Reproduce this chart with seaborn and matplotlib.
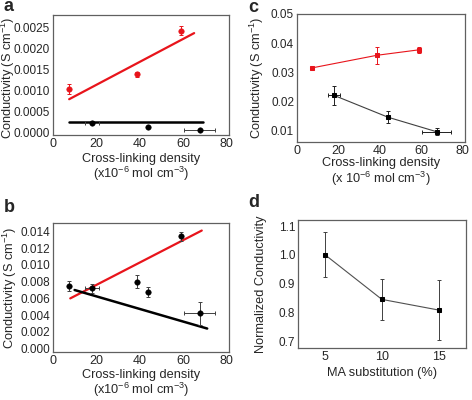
import numpy as np
import pandas as pd
import seaborn as sns
import matplotlib.pyplot as plt
from matplotlib.ticker import FormatStrFormatter, MultipleLocator

# ---- data ----
# panel a
a_red_x = [7.5, 38.5, 59.0]
a_red_y = [0.00104, 0.00139, 0.00243]
a_red_yerr = [0.00011, 0.00006, 0.0001]
a_blk_x = [18.0, 44.0, 67.5]
a_blk_y = [0.00024, 0.00014, 0.00006]
a_blk_xerr = [3.0, 0.0, 7.0]
a_blk_yerr = [0.00003, 0.00003, 0.00002]
a_redfit_x = [7.5, 65.0]
a_redfit_y = [0.00080, 0.00237]
a_blkfit_x = [7.5, 69.0]
a_blkfit_y = [0.00027, 0.00027]

# panel b
b_x = [7.5, 18.0, 38.5, 44.0, 59.0, 67.5]
b_y = [0.0075, 0.0072, 0.0080, 0.0068, 0.0134, 0.0042]
b_xerr = [0.0, 3.0, 0.0, 0.0, 0.0, 7.0]
b_yerr = [0.0006, 0.0005, 0.0008, 0.0006, 0.0005, 0.0014]
b_redfit_x = [8.0, 68.5]
b_redfit_y = [0.0060, 0.0141]
b_blkfit_x = [10.0, 71.0]
b_blkfit_y = [0.0070, 0.0024]

# panel c
c_red_x = [7.5, 38.5, 59.0]
c_red_y = [0.0315, 0.0358, 0.0377]
c_red_xerr = [0.0, 0.0, 1.0]
c_red_yerr = [0.0003, 0.0030, 0.0010]
c_blk_x = [18.0, 44.0, 67.5]
c_blk_y = [0.0220, 0.0145, 0.0095]
c_blk_xerr = [3.0, 0.0, 7.0]
c_blk_yerr = [0.0033, 0.0020, 0.0012]

# panel d
d_x = [5, 10, 15]
d_y = [1.0, 0.845, 0.808]
d_yerr = [0.078, 0.07, 0.103]

sns.set_style("white")
plt.rcParams['font.family'] = ['Liberation Sans', 'DejaVu Sans']
plt.rcParams['mathtext.fontset'] = 'custom'
plt.rcParams['mathtext.rm'] = 'Liberation Sans'
plt.rcParams['mathtext.it'] = 'Liberation Sans:italic'

RED = '#e8141b'
XTICK_FS = 9
YTICK_FS = 8.5
LAB_FS = 9.2

fig = plt.figure(figsize=(4.72, 4.0), dpi=100)
ax_a = fig.add_axes([0.112, 0.6625, 0.373, 0.30])
ax_c = fig.add_axes([0.629, 0.645, 0.356, 0.32])
ax_b = fig.add_axes([0.112, 0.12, 0.373, 0.3225])
ax_d = fig.add_axes([0.631, 0.13, 0.356, 0.32])


def style(ax):
    for s in ax.spines.values():
        s.set_color('#606060')
        s.set_linewidth(0.9)
    ax.tick_params(direction='in', length=3, width=0.7, color='#606060', pad=2)
    ax.tick_params(axis='x', labelsize=XTICK_FS)
    ax.tick_params(axis='y', labelsize=YTICK_FS)
    ax.tick_params(which='minor', direction='in', length=1.8, width=0.6,
                   color='#606060')


def errs(ax, x, y, xerr, yerr, color='#404040'):
    ax.errorbar(x, y, xerr=xerr, yerr=yerr, fmt='none', ecolor=color,
                elinewidth=0.7, capsize=1.5, capthick=0.7, zorder=2)


xlab = 'Cross-linking density\n(x10$^{-6}$ mol cm$^{-3}$)'
ylab = 'Conductivity (S cm$^{-1}$)'

# ---- a ----
ax = ax_a
sns.lineplot(x=a_redfit_x, y=a_redfit_y, color=RED, lw=1.6, ax=ax)
sns.lineplot(x=a_blkfit_x, y=a_blkfit_y, color='black', lw=1.8, ax=ax)
errs(ax, a_red_x, a_red_y, None, a_red_yerr, color=RED)
errs(ax, a_blk_x, a_blk_y, a_blk_xerr, a_blk_yerr)
sns.scatterplot(x=a_red_x, y=a_red_y, color=RED, s=16, edgecolor=RED, ax=ax, zorder=3)
sns.scatterplot(x=a_blk_x, y=a_blk_y, color='black', s=16, edgecolor='black', ax=ax, zorder=3)
ax.set_xlim(0, 81)
ax.set_ylim(-0.00005, 0.0028)
ax.set_xticks([0, 20, 40, 60, 80])
ax.set_yticks([0, 0.0005, 0.001, 0.0015, 0.002, 0.0025])
ax.yaxis.set_major_formatter(FormatStrFormatter('%.4f'))
ax.xaxis.set_minor_locator(MultipleLocator(10))

# ---- b ----
ax = ax_b
sns.lineplot(x=b_redfit_x, y=b_redfit_y, color=RED, lw=1.6, ax=ax)
sns.lineplot(x=b_blkfit_x, y=b_blkfit_y, color='black', lw=1.8, ax=ax)
errs(ax, b_x, b_y, b_xerr, b_yerr)
sns.scatterplot(x=b_x, y=b_y, color='black', s=16, edgecolor='black', ax=ax, zorder=3)
ax.set_xlim(0, 81)
ax.set_ylim(-0.0004, 0.015)
ax.set_xticks([0, 20, 40, 60, 80])
ax.set_yticks(np.arange(0, 0.0141, 0.002))
ax.yaxis.set_major_formatter(FormatStrFormatter('%.3f'))
ax.xaxis.set_minor_locator(MultipleLocator(10))

# ---- c ----
ax = ax_c
errs(ax, c_red_x, c_red_y, c_red_xerr, c_red_yerr, color=RED)
errs(ax, c_blk_x, c_blk_y, c_blk_xerr, c_blk_yerr, color='#202020')
sns.lineplot(x=c_red_x, y=c_red_y, color=RED, lw=0.8, marker='s', markersize=3.5,
             markeredgecolor=RED, ax=ax)
sns.lineplot(x=c_blk_x, y=c_blk_y, color='#404040', lw=0.8, marker='s', markersize=3.5,
             markerfacecolor='black', markeredgecolor='black', ax=ax)
ax.set_xlim(0, 81)
ax.set_ylim(0.006, 0.05)
ax.set_xticks([0, 20, 40, 60, 80])
ax.set_yticks([0.01, 0.02, 0.03, 0.04, 0.05])
ax.yaxis.set_major_formatter(FormatStrFormatter('%.2f'))
ax.xaxis.set_minor_locator(MultipleLocator(10))

# ---- d ----
ax = ax_d
errs(ax, d_x, d_y, None, d_yerr, color='#404040')
sns.lineplot(x=d_x, y=d_y, color='#505050', lw=0.8, marker='s', markersize=3.5,
             markerfacecolor='black', markeredgecolor='black', ax=ax)
ax.set_xlim(2.6, 17.4)
ax.set_ylim(0.676, 1.121)
ax.set_xticks([5, 10, 15])
ax.set_yticks([0.7, 0.8, 0.9, 1.0, 1.1])
ax.yaxis.set_major_formatter(FormatStrFormatter('%.1f'))

for ax in (ax_a, ax_b, ax_c, ax_d):
    style(ax)

ax_a.set_xlabel(xlab, fontsize=LAB_FS, linespacing=1.0)
ax_b.set_xlabel(xlab, fontsize=LAB_FS, linespacing=1.0)
ax_c.set_xlabel('Cross-linking density\n(x 10$^{-6}$ mol cm$^{-3}$)', fontsize=LAB_FS, linespacing=1.0)
ax_d.set_xlabel('MA substitution (%)', fontsize=LAB_FS)
ax_a.set_ylabel(ylab, fontsize=LAB_FS)
ax_b.set_ylabel(ylab, fontsize=LAB_FS)
ax_c.set_ylabel(ylab, fontsize=LAB_FS)
ax_d.set_ylabel('Normalized Conductivity', fontsize=LAB_FS)

ax_a.xaxis.set_label_coords(0.5, -0.15)
ax_b.xaxis.set_label_coords(0.5, -0.13)
ax_c.xaxis.set_label_coords(0.5, -0.12)
ax_d.xaxis.set_label_coords(0.5, -0.15)
ax_a.yaxis.set_label_coords(-0.205, 0.475)
ax_b.yaxis.set_label_coords(-0.195, 0.5)
ax_c.yaxis.set_label_coords(-0.185, 0.5)
ax_d.yaxis.set_label_coords(-0.185, 0.5)

for lbl, (x, y) in zip('abcd', [(0.008, 0.972), (0.008, 0.47), (0.527, 0.969), (0.527, 0.4825)]):
    fig.text(x, y, lbl, fontsize=13, fontweight='bold', va='baseline')

fig.savefig('out.png', dpi=100)
